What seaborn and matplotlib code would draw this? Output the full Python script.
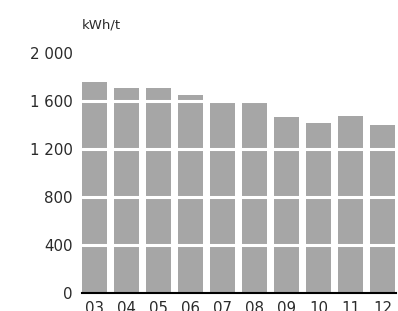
import matplotlib
matplotlib.use("Agg")
import matplotlib.pyplot as plt
import seaborn as sns
import pandas as pd

meses = ["03", "04", "05", "06", "07", "08", "09", "10", "11", "12"]
consumo = [1758, 1708, 1708, 1647, 1589, 1589, 1464, 1417, 1472, 1397]
ticks_y = [0, 400, 800, 1200, 1600, 2000]
etiquetas_y = ["0", "400", "800", "1 200", "1 600", "2 000"]

df = pd.DataFrame({"mes": meses, "consumo": consumo})

sns.set_style("white")
plt.rcParams['font.family'] = ['DejaVu Sans']

fig = plt.figure(figsize=(3.98, 3.11), dpi=100)
ax = fig.add_axes([0.205, 0.0588, 0.79, 0.7717])

sns.barplot(ax=ax, data=df, x="mes", y="consumo", color="#a6a6a6",
            saturation=1, width=0.78, edgecolor="none")

ax.set_ylim(0, 2000)
ax.set_xlim(-0.39, 9.41)
ax.set_yticks(ticks_y, etiquetas_y)
for v in ticks_y[1:]:
    ax.axhline(v, color="white", linewidth=2.2, zorder=3)

for s in ["top", "right", "left"]:
    ax.spines[s].set_visible(False)
ax.spines["bottom"].set_color("black")
ax.spines["bottom"].set_linewidth(1.5)
ax.spines["bottom"].set_zorder(4)

ax.tick_params(axis="y", length=0, pad=6.5, labelsize=10.8, colors="#2a2a2a")
ax.tick_params(axis="x", length=0, pad=6, labelsize=10.8, colors="#2a2a2a")
ax.set_xlabel("")
ax.set_ylabel("")

fig.text(0.205, 0.92, "kWh/t", fontsize=9.5, color="#2a2a2a", va="center", ha="left")

plt.savefig("out.png", dpi=100)
